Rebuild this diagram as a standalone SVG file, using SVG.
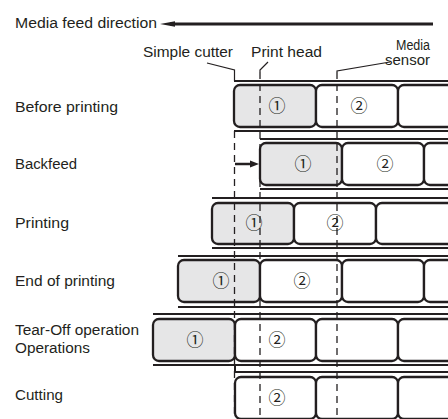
<svg xmlns="http://www.w3.org/2000/svg" width="448" height="419" viewBox="0 0 448 419">
<style>
.t{font-family:"Liberation Sans",Arial,sans-serif;font-size:14px;fill:#231f20}
.n{font-family:"Noto Sans CJK JP","DejaVu Sans",sans-serif;font-size:17px;fill:#231f20;text-anchor:middle}
.lab{stroke:#231f20;stroke-width:2.3;fill:#fff}
.g{fill:#e6e6e7}
.rail{stroke:#231f20;stroke-width:2;fill:none}
.dash{stroke:#231f20;stroke-width:1.3;stroke-dasharray:7 5;fill:none}
.lead{stroke:#231f20;stroke-width:1.2;fill:none}
</style>
<rect width="448" height="419" fill="#fff"/>
<g id="header">
<text class="t" x="15" y="28" textLength="142" lengthAdjust="spacingAndGlyphs">Media feed direction</text>
<line x1="170" y1="24" x2="433" y2="24" stroke="#231f20" stroke-width="3"/>
<polygon points="160,24 175,21.2 175,26.8" fill="#231f20"/>
<text class="t" x="143" y="57" textLength="90" lengthAdjust="spacingAndGlyphs">Simple cutter</text>
<text class="t" x="251" y="57" textLength="71" lengthAdjust="spacingAndGlyphs">Print head</text>
<text class="t" x="396" y="50" textLength="34" lengthAdjust="spacingAndGlyphs">Media</text>
<text class="t" x="385" y="65" textLength="45" lengthAdjust="spacingAndGlyphs">sensor</text>
</g>
<g id="row-labels">
<text class="t" x="15" y="112" textLength="103" lengthAdjust="spacingAndGlyphs">Before printing</text>
<text class="t" x="15" y="169" textLength="62" lengthAdjust="spacingAndGlyphs">Backfeed</text>
<text class="t" x="15" y="228" textLength="54" lengthAdjust="spacingAndGlyphs">Printing</text>
<text class="t" x="15" y="286" textLength="100" lengthAdjust="spacingAndGlyphs">End of printing</text>
<text class="t" x="15" y="335" textLength="124" lengthAdjust="spacingAndGlyphs">Tear-Off operation</text>
<text class="t" x="15" y="353" textLength="75" lengthAdjust="spacingAndGlyphs">Operations</text>
<text class="t" x="15" y="400" textLength="48" lengthAdjust="spacingAndGlyphs">Cutting</text>
</g>
<g id="row1">
<path class="rail" d="M234,81H448M234,131H448"/>
<rect class="lab g" x="234" y="85" width="82" height="42" rx="6"/>
<rect class="lab" x="316" y="85" width="82" height="42" rx="6"/>
<rect class="lab" x="398" y="85" width="82" height="42" rx="6"/>
<text class="n" x="277" y="112">①</text>
<text class="n" x="359" y="112">②</text>
</g>
<g id="row2">
<path class="rail" d="M260,139H448M260,189H448"/>
<rect class="lab g" x="260" y="143" width="82" height="42" rx="6"/>
<rect class="lab" x="342" y="143" width="82" height="42" rx="6"/>
<rect class="lab" x="424" y="143" width="82" height="42" rx="6"/>
<text class="n" x="303" y="170">①</text>
<text class="n" x="385" y="170">②</text>
</g>
<g id="row3">
<path class="rail" d="M212,198H448M212,248H448"/>
<rect class="lab g" x="212" y="203" width="82" height="41" rx="6"/>
<rect class="lab" x="294" y="203" width="82" height="41" rx="6"/>
<rect class="lab" x="376" y="203" width="82" height="41" rx="6"/>
<text class="n" x="254" y="229">①</text>
<text class="n" x="335" y="229">②</text>
</g>
<g id="row4">
<path class="rail" d="M178,256H448M178,307H448"/>
<rect class="lab g" x="178" y="260" width="82" height="42" rx="6"/>
<rect class="lab" x="260" y="260" width="82" height="42" rx="6"/>
<rect class="lab" x="342" y="260" width="82" height="42" rx="6"/>
<rect class="lab" x="424" y="260" width="82" height="42" rx="6"/>
<text class="n" x="221" y="287">①</text>
<text class="n" x="302" y="287">②</text>
</g>
<g id="row5">
<path class="rail" d="M153,314H448M153,365H448"/>
<rect class="lab g" x="153" y="319" width="82" height="42" rx="6"/>
<rect class="lab" x="235" y="319" width="81" height="42" rx="6"/>
<rect class="lab" x="316" y="319" width="82" height="42" rx="6"/>
<rect class="lab" x="398" y="319" width="82" height="42" rx="6"/>
<text class="n" x="195" y="346">①</text>
<text class="n" x="277" y="346">②</text>
</g>
<g id="row6">
<path class="rail" d="M235,365V372H448"/>
<rect class="lab" x="235" y="377" width="81" height="42" rx="6"/>
<rect class="lab" x="316" y="377" width="82" height="42" rx="6"/>
<rect class="lab" x="398" y="377" width="82" height="42" rx="6"/>
<text class="n" x="277" y="404">②</text>
</g>
<g id="connectors">
<path class="lead" d="M207,63L234.5,70V81"/>
<path class="lead" d="M268,62L260,70V72"/>
<path class="lead" d="M390,62L337,71V72"/>
<path class="dash" d="M234.5,131V419"/>
<path class="dash" d="M260,72V419"/>
<path class="dash" d="M337,72V419"/>
<line x1="235" y1="164" x2="252" y2="164" stroke="#231f20" stroke-width="2.5"/>
<polygon points="259,164 250,160.5 250,167.5" fill="#231f20"/>
</g>
</svg>
